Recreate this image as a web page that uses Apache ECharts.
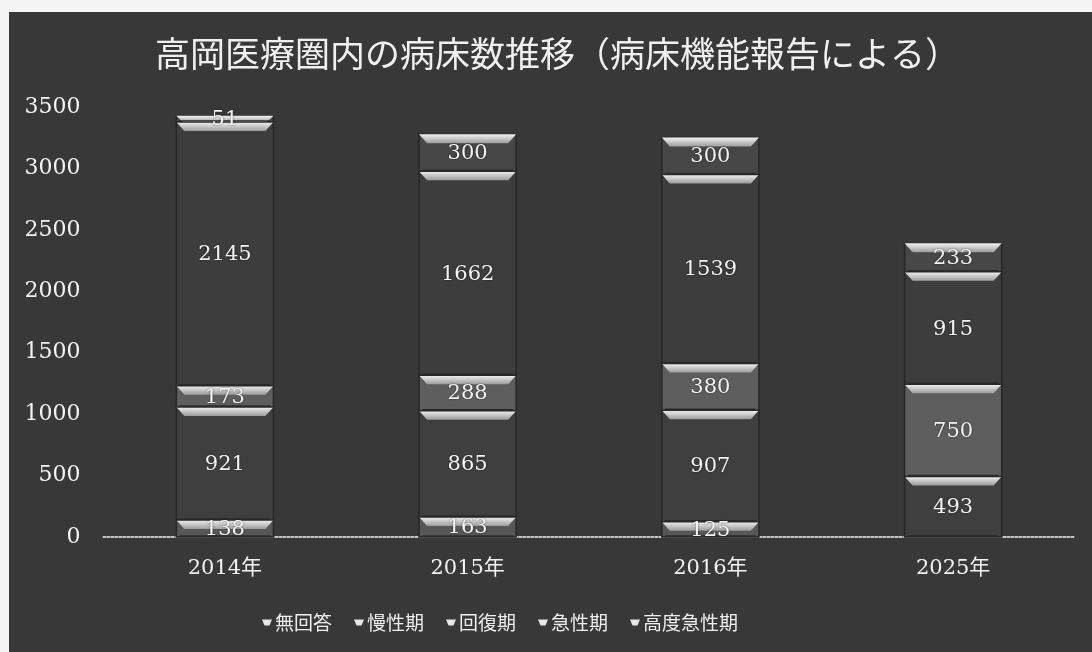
<!DOCTYPE html>
<html>
<head>
<meta charset="utf-8">
<script src="https://cdn.jsdelivr.net/npm/echarts@6/dist/echarts.min.js"></script>
<style>
  html, body { margin: 0; padding: 0; width: 1092px; height: 652px; background: #f4f4f4; overflow: hidden; }
  #panel { position: absolute; left: 9px; top: 12px; width: 1083px; height: 640px; background: #383838; }
</style>
</head>
<body>
<div id="panel"></div>
<script>
// Years on the category axis
const years = ['2014年', '2015年', '2016年', '2025年'];

// Bed counts per function, listed bottom-to-top of each stack
const koudoKyuseiki = [138, 163, 125, 0];    // 高度急性期
const kyuseiki      = [921, 865, 907, 493];  // 急性期
const kaifukuki     = [173, 288, 380, 750];  // 回復期
const manseiki      = [2145, 1662, 1539, 915]; // 慢性期
const mukaito       = [51, 300, 300, 233];   // 無回答

const seriesNames = ['高度急性期', '急性期', '回復期', '慢性期', '無回答'];
const seriesValues = [koudoKyuseiki, kyuseiki, kaifukuki, manseiki, mukaito];
const legendOrder = ['無回答', '慢性期', '回復期', '急性期', '高度急性期'];

// Y axis ticks
const yMin = 0, yMax = 3500, yStep = 500;

// Body fill of each segment kind (same order as seriesNames)
const bodyColors = ['#575757', '#3f3f3f', '#5e5e5e', '#3d3d3d', '#474747'];

const serif = '"DejaVu Serif", "Liberation Serif", "Noto Sans CJK JP", serif';

function makeRender(si) {
  return function (params, api) {
    const ci = api.value(0);
    const v = api.value(1);
    if (!v) return null;
    let base = 0;
    for (let k = 0; k < si; k++) base += seriesValues[k][ci];
    const p0 = api.coord([ci, base]);
    const p1 = api.coord([ci, base + v]);
    const bw = api.size([1, 0])[0] * 0.4;
    const x = p0[0] - bw / 2;
    const yTop = p1[1], yBot = p0[1];
    const h = yBot - yTop;
    const bh = Math.min(9, h);
    const inset = Math.min(8, bh);
    const children = [
      {
        type: 'rect',
        shape: { x: x, y: yTop, width: bw, height: h },
        style: { fill: bodyColors[si], stroke: '#272727', lineWidth: 1.5 }
      },
      {
        type: 'polygon',
        shape: { points: [[x, yTop], [x + bw, yTop], [x + bw - inset, yTop + bh], [x + inset, yTop + bh]] },
        style: {
          fill: new echarts.graphic.LinearGradient(0, 0, 0, 1, [
            { offset: 0, color: '#f2f2f2' },
            { offset: 1, color: '#9c9c9c' }
          ])
        }
      },
      {
        type: 'line',
        shape: { x1: x + 3, y1: yBot - 1, x2: x + bw - 3, y2: yBot - 1 },
        style: { stroke: '#2a2a2a', lineWidth: 1.5 }
      },
      {
        type: 'text',
        style: {
          text: String(v),
          x: p0[0],
          y: (yTop + yBot) / 2 + 1,
          align: 'center',
          verticalAlign: 'middle',
          fill: '#f4f4f4',
          fontSize: 21,
          fontFamily: serif,
          textShadowColor: 'rgba(0,0,0,0.6)',
          textShadowBlur: 2
        },
        z2: 10
      }
    ];
    return { type: 'group', children: children };
  };
}

const chart = echarts.init(document.getElementById('panel'), null, { renderer: 'canvas' });

chart.setOption({
  backgroundColor: 'transparent',
  animation: false,
  title: {
    text: '高岡医療圏内の病床数推移（病床機能報告による）',
    left: 146,
    top: 24,
    padding: 0,
    textStyle: {
      color: '#f0f0f0',
      fontSize: 35,
      fontWeight: 'normal',
      fontFamily: '"Noto Sans CJK JP", sans-serif'
    }
  },
  legend: {
    data: legendOrder,
    left: 248,
    top: 596,
    icon: 'path://M0,0L10,0L7.5,6L2.5,6Z',
    itemWidth: 10,
    itemHeight: 7,
    itemGap: 22,
    itemStyle: { color: '#e6e6e6' },
    textStyle: {
      color: '#eeeeee',
      fontSize: 19,
      fontFamily: '"Noto Sans CJK JP", sans-serif',
      padding: [0, 0, 0, -2]
    }
  },
  grid: {
    left: 94.5,
    right: 17.5,
    top: 95,
    bottom: 115,
    containLabel: false
  },
  xAxis: {
    type: 'category',
    data: years,
    axisTick: { show: false },
    axisLine: { show: true, lineStyle: { color: '#c8c8c8', type: 'dotted', width: 2 } },
    axisLabel: {
      color: '#f2f2f2',
      fontSize: 21,
      fontFamily: serif,
      margin: 21
    }
  },
  yAxis: {
    type: 'value',
    min: yMin,
    max: yMax,
    interval: yStep,
    axisLine: { show: false },
    axisTick: { show: false },
    splitLine: { show: false },
    axisLabel: {
      color: '#f2f2f2',
      fontSize: 22,
      fontFamily: serif,
      margin: 23,
      formatter: function (v) { return String(v); }
    }
  },
  series: seriesNames.map(function (name, si) {
    return {
      name: name,
      type: 'custom',
      renderItem: makeRender(si),
      itemStyle: { color: '#e6e6e6' },
      encode: { x: 0, y: 1 },
      data: seriesValues[si].map(function (v, ci) { return [ci, v]; })
    };
  })
});
</script>
</body>
</html>
